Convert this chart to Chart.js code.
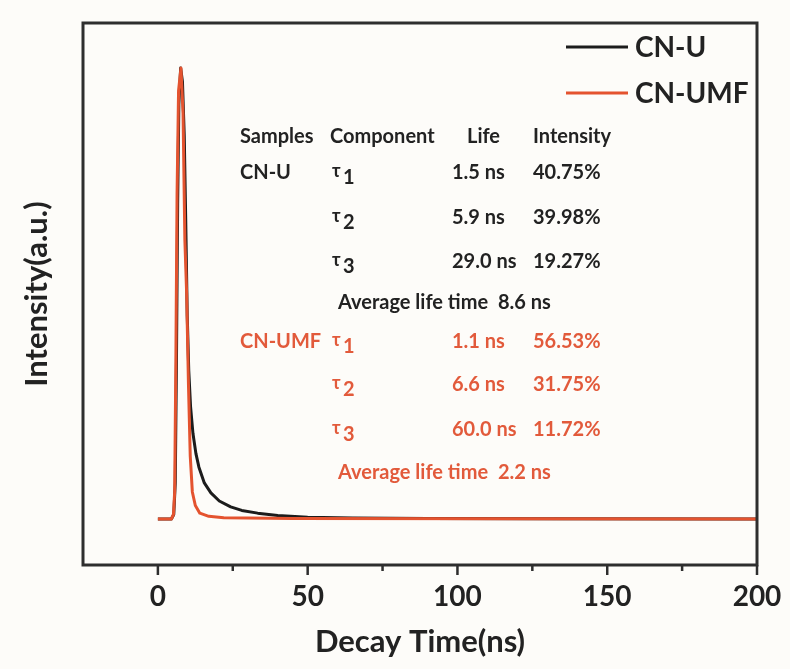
<!DOCTYPE html>
<html>
<head>
<meta charset="utf-8">
<script src="https://cdn.jsdelivr.net/npm/chart.js@4.4.1/dist/chart.umd.min.js"></script>
<style>
  html, body { margin: 0; padding: 0; background: #fdfcf9; }
  canvas { display: block; }
</style>
</head>
<body>
<canvas id="decay" width="790" height="669"></canvas>
<script>
// Time-resolved PL decay curves (normalised intensity vs. time in ns)
const timeCNU = [0, 4.5, 5.3, 5.8, 6.2, 6.6, 7.0, 7.6, 8.2, 8.8, 9.3, 9.8, 10.3, 10.9, 11.7, 12.7, 13.7, 15.5, 17.7, 20.5, 24.3, 28, 33.3, 40, 50, 65, 90, 130, 200];
const intensityCNU = [0, 0, 0.01, 0.08, 0.35, 0.7, 0.92, 1.0, 0.97, 0.85, 0.66, 0.45, 0.33, 0.25, 0.19, 0.145, 0.115, 0.08, 0.058, 0.04, 0.027, 0.019, 0.013, 0.008, 0.004, 0.002, 0.001, 0.0005, 0];

const timeUMF = [0, 4.5, 5.2, 5.6, 6.0, 6.4, 6.9, 7.7, 8.4, 9.0, 9.6, 10.2, 10.8, 11.5, 12.5, 14, 17, 22, 30, 45, 200];
const intensityUMF = [0, 0, 0.01, 0.06, 0.35, 0.72, 0.95, 1.0, 0.9, 0.62, 0.5, 0.3, 0.14, 0.06, 0.03, 0.013, 0.006, 0.003, 0.002, 0.001, 0];

const xTickLabels = [0, 50, 100, 150, 200];
const seriesNames = ['CN-U', 'CN-UMF'];
const seriesColors = ['#1c1c1c', '#e4532f'];

// Fitted lifetime components
const tableHeader = ['Samples', 'Component', 'Life', 'Intensity'];
const cnuLife = [1.5, 5.9, 29.0];
const cnuShare = [40.75, 39.98, 19.27];
const cnuAverage = 8.6;
const umfLife = [1.1, 6.6, 60.0];
const umfShare = [56.53, 31.75, 11.72];
const umfAverage = 2.2;

const FONT = 'Lato, "Open Sans", sans-serif';
const INK = '#222222';
const RED_TEXT = '#e25a3b';
const TABLE_FONT = 'bold 20px ' + FONT;

const toPoints = (xs, ys) => xs.map((x, i) => ({ x: x, y: ys[i] }));

const decorations = {
  id: 'decorations',
  beforeDraw(chart) {
    const ctx = chart.ctx;
    ctx.save();
    ctx.fillStyle = '#fdfcf9';
    ctx.fillRect(0, 0, chart.width, chart.height);
    ctx.restore();
  },
  afterDraw(chart) {
    const ctx = chart.ctx;
    const a = chart.chartArea;
    const xs = chart.scales.x;
    ctx.save();

    // frame
    ctx.strokeStyle = '#2e2e2e';
    ctx.lineWidth = 3;
    ctx.strokeRect(a.left, a.top, a.right - a.left, a.bottom - a.top);

    // tick marks below the x axis (major every 50, minor every 25)
    ctx.lineWidth = 2.5;
    xs.ticks.forEach(t => {
      if (t.value <= xs.min) return;
      const px = xs.getPixelForValue(t.value);
      const len = xTickLabels.includes(t.value) ? 10 : 6;
      ctx.beginPath();
      ctx.moveTo(px, a.bottom);
      ctx.lineTo(px, a.bottom + len);
      ctx.stroke();
    });

    // legend
    ctx.textBaseline = 'middle';
    ctx.textAlign = 'left';
    ctx.font = 'bold 28px ' + FONT;
    const legendY = [47, 93];
    chart.data.datasets.forEach((ds, i) => {
      ctx.strokeStyle = ds.borderColor;
      ctx.lineWidth = 3;
      ctx.beginPath();
      ctx.moveTo(566, legendY[i]);
      ctx.lineTo(628, legendY[i]);
      ctx.stroke();
      ctx.fillStyle = INK;
      ctx.fillText(ds.label, 635, legendY[i] + 1);
    });

    // lifetime table
    const colX = [240, 330, 467, 533];
    const lifeX = 452;
    const shareX = 533;
    ctx.font = TABLE_FONT;
    ctx.fillStyle = INK;
    tableHeader.forEach((h, i) => ctx.fillText(h, colX[i], 137));

    const drawTau = (n, x, y, color) => {
      ctx.fillStyle = color;
      ctx.font = 'bold 18px ' + FONT;
      ctx.fillText('\u03c4', x, y - 2);
      ctx.font = TABLE_FONT;
      ctx.fillText(String(n), x + 11, y + 5);
    };

    const drawBlock = (name, lives, shares, avg, rows, avgY, color) => {
      ctx.font = TABLE_FONT;
      ctx.fillStyle = color;
      ctx.fillText(name, colX[0], rows[0]);
      lives.forEach((v, i) => {
        drawTau(i + 1, 332, rows[i], color);
        ctx.font = TABLE_FONT;
        ctx.fillStyle = color;
        ctx.fillText(v.toFixed(1) + ' ns', lifeX, rows[i]);
        ctx.fillText(shares[i].toFixed(2) + '%', shareX, rows[i]);
      });
      ctx.font = TABLE_FONT;
      ctx.fillStyle = color;
      ctx.fillText('Average life time  ' + avg.toFixed(1) + ' ns', 338, avgY);
    };

    drawBlock(seriesNames[0], cnuLife, cnuShare, cnuAverage, [173, 218, 262], 303, INK);
    drawBlock(seriesNames[1], umfLife, umfShare, umfAverage, [342, 385, 430], 473, RED_TEXT);

    ctx.restore();
  }
};

new Chart(document.getElementById('decay'), {
  type: 'line',
  data: {
    datasets: [
      {
        label: seriesNames[0],
        data: toPoints(timeCNU, intensityCNU),
        borderColor: seriesColors[0],
        borderWidth: 3,
        order: 1
      },
      {
        label: seriesNames[1],
        data: toPoints(timeUMF, intensityUMF),
        borderColor: seriesColors[1],
        borderWidth: 3,
        order: 0
      }
    ]
  },
  options: {
    responsive: false,
    animation: false,
    devicePixelRatio: 1,
    layout: { padding: { top: 23, right: 33, left: 0, bottom: 0 } },
    plugins: { legend: { display: false }, tooltip: { enabled: false } },
    elements: { point: { radius: 0 }, line: { tension: 0, borderJoinStyle: 'round' } },
    scales: {
      x: {
        type: 'linear',
        min: -25,
        max: 200,
        afterFit(scale) {
          scale.height = 104;
          scale.paddingLeft = 0;
          scale.paddingRight = 0;
        },
        grid: { display: false, drawTicks: false },
        border: { display: false },
        ticks: {
          stepSize: 25,
          autoSkip: false,
          maxRotation: 0,
          padding: 15,
          color: INK,
          font: { family: FONT, weight: 'bold', size: 28 },
          callback: v => (xTickLabels.includes(v) ? String(v) : '')
        },
        title: {
          display: true,
          text: 'Decay Time(ns)',
          color: INK,
          font: { family: FONT, weight: 'bold', size: 31 },
          padding: { top: 0, bottom: 8 }
        }
      },
      y: {
        min: -0.102,
        max: 1.1,
        afterFit(scale) { scale.width = 83; },
        grid: { display: false, drawTicks: false },
        border: { display: false },
        ticks: { display: false },
        title: {
          display: true,
          text: 'Intensity(a.u.)',
          color: INK,
          font: { family: FONT, weight: 'bold', size: 31 },
          padding: { top: 18, bottom: 0 }
        }
      }
    }
  },
  plugins: [decorations]
});
</script>
</body>
</html>
